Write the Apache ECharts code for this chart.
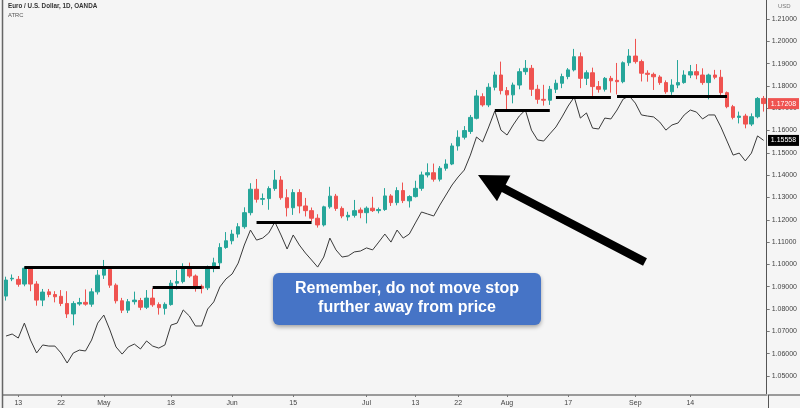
<!DOCTYPE html>
<html>
<head>
<meta charset="utf-8">
<script src="https://cdn.jsdelivr.net/npm/echarts@6/dist/echarts.min.js"></script>
<style>
  html, body { margin: 0; padding: 0; background: #f5f5f5; }
  #chart { width: 800px; height: 408px; }
</style>
</head>
<body>
<div id="chart"></div>
<script>
// weekday sessions, Apr 9 .. Sep 30 2020
const dates = []
for (let t = Date.UTC(2020, 3, 9); t <= Date.UTC(2020, 8, 30); t += 86400000) {
  const wd = new Date(t).getUTCDay()
  if (wd !== 0 && wd !== 6) dates.push(new Date(t).toISOString().slice(0, 10))
}

const open = [
  1.0858,1.0935,1.0933,1.0912,1.0982,1.0912,1.0840,1.0877,1.0865,1.0857,
  1.0825,1.0778,1.0823,1.0830,1.0822,1.0877,1.0952,1.0978,1.0907,1.0837,
  1.0795,1.0833,1.0838,1.0808,1.0849,1.0820,1.0803,1.0820,1.0916,1.0923,
  1.0983,1.0948,1.0902,1.0895,1.0982,1.1007,1.1076,1.1106,1.1136,1.1169,
  1.1232,1.1337,1.1292,1.1295,1.1340,1.1378,1.1299,1.1254,1.1322,1.1262,
  1.1241,1.1207,1.1177,1.1258,1.1306,1.1251,1.1213,1.1220,1.1244,1.1232,
  1.1252,1.1241,1.1246,1.1307,1.1277,1.1331,1.1285,1.1304,1.1341,1.1401,
  1.1411,1.1382,1.1431,1.1450,1.1531,1.1570,1.1596,1.1655,1.1752,1.1715,
  1.1794,1.1849,1.1779,1.1760,1.1804,1.1864,1.1879,1.1785,1.1740,1.1736,
  1.1785,1.1812,1.1842,1.1872,1.1931,1.1834,1.1859,1.1797,1.1785,1.1834,
  1.1825,1.1819,1.1904,1.1934,1.1909,1.1857,1.1852,1.1840,1.1815,1.1774,
  1.1804,1.1815,1.1849,1.1864,1.1849,1.1815,1.1849,1.1839,1.1770,1.1707,
  1.1659,1.1665,1.1629,1.1662,1.1744
]
const close = [
  1.0930,1.0938,1.0911,1.0983,1.0912,1.0840,1.0876,1.0865,1.0855,1.0825,
  1.0778,1.0825,1.0829,1.0822,1.0877,1.0952,1.0982,1.0907,1.0837,1.0795,
  1.0833,1.0840,1.0808,1.0849,1.0819,1.0806,1.0821,1.0916,1.0923,1.0983,
  1.0948,1.0900,1.0893,1.0982,1.1007,1.1076,1.1106,1.1136,1.1169,1.1232,
  1.1337,1.1292,1.1295,1.1340,1.1378,1.1299,1.1254,1.1322,1.1262,1.1241,
  1.1207,1.1177,1.1258,1.1306,1.1251,1.1217,1.1220,1.1241,1.1232,1.1252,
  1.1241,1.1246,1.1307,1.1277,1.1331,1.1286,1.1304,1.1341,1.1401,1.1411,
  1.1382,1.1431,1.1450,1.1531,1.1570,1.1600,1.1659,1.1755,1.1715,1.1794,
  1.1849,1.1779,1.1760,1.1804,1.1864,1.1879,1.1785,1.1740,1.1736,1.1785,
  1.1812,1.1842,1.1872,1.1931,1.1834,1.1859,1.1797,1.1785,1.1834,1.1823,
  1.1819,1.1904,1.1934,1.1909,1.1857,1.1852,1.1841,1.1815,1.1774,1.1804,
  1.1815,1.1849,1.1864,1.1849,1.1815,1.1849,1.1839,1.1770,1.1707,1.1659,
  1.1665,1.1629,1.1662,1.1744,1.1721
]
const high = [
  1.0945,1.0955,1.0948,1.0990,1.0990,1.0925,1.0890,1.0890,1.0880,1.0885,
  1.0880,1.0835,1.0850,1.0888,1.0893,1.0975,1.1020,1.0990,1.0915,1.0850,
  1.0845,1.0878,1.0850,1.0885,1.0893,1.0830,1.0830,1.0930,1.0975,1.1005,
  1.1008,1.0955,1.0910,1.0995,1.1030,1.1095,1.1145,1.1155,1.1185,1.1256,
  1.1364,1.1383,1.1318,1.1350,1.1423,1.1396,1.1337,1.1337,1.1337,1.1298,
  1.1255,1.1225,1.1263,1.1348,1.1316,1.1260,1.1236,1.1289,1.1255,1.1260,
  1.1303,1.1255,1.1342,1.1315,1.1346,1.1367,1.1310,1.1375,1.1416,1.1453,
  1.1452,1.1441,1.1471,1.1543,1.1601,1.1620,1.1670,1.1782,1.1767,1.1812,
  1.1864,1.1909,1.1795,1.1815,1.1879,1.1916,1.1894,1.1805,1.1805,1.1800,
  1.1828,1.1855,1.1880,1.1966,1.1950,1.1870,1.1882,1.1822,1.1840,1.1845,
  1.1903,1.1910,1.1965,1.2011,1.1918,1.1870,1.1860,1.1848,1.1825,1.1830,
  1.1916,1.1870,1.1894,1.1898,1.1879,1.1855,1.1872,1.1872,1.1775,1.1715,
  1.1685,1.1675,1.1677,1.1750,1.1755
]
const low = [
  1.0838,1.0925,1.0900,1.0902,1.0880,1.0815,1.0813,1.0853,1.0830,1.0813,
  1.0760,1.0727,1.0815,1.0815,1.0810,1.0865,1.0935,1.0895,1.0825,1.0782,
  1.0782,1.0820,1.0795,1.0800,1.0810,1.0775,1.0775,1.0815,1.0888,1.0915,
  1.0940,1.0878,1.0870,1.0885,1.0965,1.0990,1.1070,1.1090,1.1120,1.1160,
  1.1220,1.1277,1.1266,1.1245,1.1330,1.1290,1.1215,1.1222,1.1229,1.1215,
  1.1192,1.1165,1.1170,1.1250,1.1240,1.1207,1.1196,1.1210,1.1207,1.1184,
  1.1235,1.1229,1.1240,1.1262,1.1265,1.1275,1.1255,1.1300,1.1330,1.1390,
  1.1371,1.1372,1.1420,1.1445,1.1510,1.1560,1.1585,1.1650,1.1707,1.1705,
  1.1780,1.1762,1.1696,1.1722,1.1785,1.1850,1.1755,1.1720,1.1712,1.1715,
  1.1768,1.1790,1.1830,1.1865,1.1790,1.1804,1.1755,1.1770,1.1775,1.1770,
  1.1762,1.1812,1.1890,1.1900,1.1820,1.1819,1.1782,1.1805,1.1765,1.1760,
  1.1790,1.1810,1.1835,1.1830,1.1805,1.1740,1.1830,1.1760,1.1700,1.1650,
  1.1632,1.1610,1.1620,1.1655,1.1685
]
// ATR trailing line
const atrc = [
  1.0679,1.0688,1.0670,1.0737,1.0661,1.0603,1.0639,1.0634,1.0634,1.0603,
  1.0558,1.0603,1.0616,1.0612,1.0661,1.0737,1.0773,1.0706,1.0630,1.0598,
  1.0630,1.0643,1.0621,1.0657,1.0634,1.0625,1.0639,1.0728,1.0737,1.0796,
  1.0769,1.0724,1.0724,1.0800,1.0832,1.0899,1.0935,1.0957,1.1006,1.1087,
  1.1154,1.1109,1.1118,1.1141,1.1190,1.1132,1.1069,1.1132,1.1087,1.1051,
  1.1020,1.0988,1.1033,1.1118,1.1065,1.1033,1.1038,1.1056,1.1060,1.1074,
  1.1065,1.1100,1.1136,1.1100,1.1154,1.1118,1.1136,1.1186,1.1235,1.1226,
  1.1217,1.1266,1.1311,1.1356,1.1392,1.1423,1.1490,1.1571,1.1549,1.1616,
  1.1688,1.1602,1.1580,1.1625,1.1665,1.1692,1.1602,1.1558,1.1553,1.1585,
  1.1616,1.1661,1.1710,1.1750,1.1656,1.1679,1.1611,1.1607,1.1656,1.1652,
  1.1692,1.1741,1.1755,1.1723,1.1670,1.1665,1.1661,1.1638,1.1602,1.1625,
  1.1634,1.1670,1.1692,1.1683,1.1652,1.1670,1.1670,1.1616,1.1553,1.1490,
  1.1499,1.1464,1.1499,1.1576,1.1556
]

// horizontal stop levels drawn on the chart
const levelPrice = [1.0988, 1.0897, 1.1190, 1.1692, 1.1750, 1.1755]
const levelFrom  = ['2020-04-14', '2020-05-13', '2020-06-05', '2020-07-30', '2020-08-13', '2020-08-27']
const levelTo    = ['2020-05-28', '2020-05-25', '2020-06-18', '2020-08-12', '2020-08-26', '2020-09-22']

const tickDates  = ['2020-04-13','2020-04-22','2020-05-01','2020-05-18','2020-06-01','2020-06-15',
                    '2020-07-01','2020-07-13','2020-07-22','2020-08-03','2020-08-17','2020-09-01','2020-09-14']
const tickLabels = ['13','22','May','18','Jun','15','Jul','13','22','Aug','17','Sep','14']
const priceTicks = [1.05,1.06,1.07,1.08,1.09,1.10,1.11,1.12,1.13,1.14,1.15,1.16,1.17,1.18,1.19,1.20,1.21]

const lastPrice = 1.17208
const lastAtrc  = 1.15558

const UP = '#26a69a', DOWN = '#ef5350'
const FONT = 'Arial, "Liberation Sans", sans-serif'

const candles = open.map((o, i) => [o, close[i], low[i], high[i]])
const showTick = (idx, val) => tickDates.includes(val)

const chart = echarts.init(document.getElementById('chart'), null, { renderer: 'canvas' })

// arrow polygon from tip to tail
function arrowPoints(tip, tail, headLen, headHalf, shaftHalf) {
  const dx = tail[0] - tip[0], dy = tail[1] - tip[1]
  const len = Math.hypot(dx, dy)
  const ux = dx / len, uy = dy / len
  const nx = -uy, ny = ux
  const bx = tip[0] + ux * headLen, by = tip[1] + uy * headLen
  return [
    tip,
    [bx + nx * headHalf, by + ny * headHalf],
    [bx + nx * shaftHalf, by + ny * shaftHalf],
    [tail[0] + nx * shaftHalf, tail[1] + ny * shaftHalf],
    [tail[0] - nx * shaftHalf, tail[1] - ny * shaftHalf],
    [bx - nx * shaftHalf, by - ny * shaftHalf],
    [bx - nx * headHalf, by - ny * headHalf],
  ]
}

chart.setOption({
  backgroundColor: '#f5f5f5',
  animation: false,
  grid: { left: 3, right: 32, top: 0, bottom: 13 },
  xAxis: {
    type: 'category',
    data: dates,
    boundaryGap: true,
    axisLine: { lineStyle: { color: '#9a9a9a', width: 2 } },
    axisTick: { show: true, interval: showTick, alignWithLabel: true, length: 2, lineStyle: { color: '#777' } },
    axisLabel: {
      interval: showTick,
      formatter: v => tickLabels[tickDates.indexOf(v)],
      fontSize: 7, color: '#444', margin: 5, fontFamily: FONT,
    },
    splitLine: { show: false },
  },
  yAxis: {
    type: 'value',
    position: 'right',
    min: 1.04147,
    max: 1.21852,
    axisLine: { show: true, lineStyle: { color: '#555', width: 1 } },
    axisTick: { show: true, customValues: priceTicks, length: 3, lineStyle: { color: '#777' } },
    axisLabel: {
      customValues: priceTicks,
      formatter: v => v.toFixed(5),
      fontSize: 7, color: '#444', margin: 5, fontFamily: FONT,
    },
    splitLine: { show: false },
  },
  series: [
    {
      type: 'candlestick',
      data: candles,
      barWidth: 4,
      itemStyle: { color: UP, color0: DOWN, borderColor: UP, borderColor0: DOWN, borderWidth: 1 },
      markLine: {
        silent: true,
        symbol: 'none',
        label: { show: false },
        lineStyle: { color: '#000', width: 3, type: 'solid' },
        data: levelPrice.map((p, k) => [
          { coord: [levelFrom[k], p] },
          { coord: [levelTo[k], p] },
        ]),
      },
      z: 3,
    },
    {
      type: 'line',
      data: atrc,
      showSymbol: false,
      lineStyle: { color: '#3a3a3a', width: 1 },
      z: 2,
    },
  ],
})

const yLast = chart.convertToPixel({ yAxisIndex: 0 }, lastPrice)
const yAtr  = chart.convertToPixel({ yAxisIndex: 0 }, lastAtrc)

chart.setOption({
  graphic: [
    // frame lines
    { type: 'line', shape: { x1: 2.5, y1: 0, x2: 2.5, y2: 408 }, style: { stroke: '#666', lineWidth: 1.5 }, z: 10 },
    { type: 'line', shape: { x1: 768, y1: 395, x2: 800, y2: 395 }, style: { stroke: '#9a9a9a', lineWidth: 2 }, z: 10 },
    { type: 'line', shape: { x1: 768.5, y1: 395, x2: 768.5, y2: 408 }, style: { stroke: '#555', lineWidth: 1 }, z: 10 },
    // header text
    { type: 'text', left: 8, top: 3, style: { text: 'Euro / U.S. Dollar, 1D, OANDA', font: 'bold 6.3px ' + FONT, fill: '#333' }, z: 10 },
    { type: 'text', left: 8, top: 12, style: { text: 'ATRC', font: '5.8px ' + FONT, fill: '#555' }, z: 10 },
    { type: 'text', left: 778, top: 3, style: { text: 'USD', font: '6px ' + FONT, fill: '#777' }, z: 10 },
    // last price / ATRC value tags
    { type: 'rect', shape: { x: 768, y: yLast - 5.5, width: 31, height: 11 }, style: { fill: DOWN }, z: 20 },
    { type: 'text', x: 783.5, y: yLast, style: { text: lastPrice.toFixed(5), font: '7px ' + FONT, fill: '#fff', align: 'center', verticalAlign: 'middle' }, z: 21 },
    { type: 'rect', shape: { x: 768, y: yAtr - 5.5, width: 31, height: 11 }, style: { fill: '#000' }, z: 20 },
    { type: 'text', x: 783.5, y: yAtr, style: { text: lastAtrc.toFixed(5), font: '7px ' + FONT, fill: '#fff', align: 'center', verticalAlign: 'middle' }, z: 21 },
    // arrow
    { type: 'polygon', shape: { points: arrowPoints([478, 175], [645, 262], 29, 14.5, 4.2) }, style: { fill: '#000' }, z: 15 },
    // callout box
    {
      type: 'rect',
      shape: { x: 273, y: 273, width: 268, height: 52, r: 6 },
      style: { fill: '#4674c6', shadowBlur: 4, shadowOffsetY: 2, shadowColor: 'rgba(0,0,0,0.35)' },
      z: 15,
    },
    { type: 'text', x: 407, y: 289, style: { text: 'Remember, do not move stop', font: 'bold 16px ' + FONT, fill: '#fff', align: 'center', verticalAlign: 'middle' }, z: 16 },
    { type: 'text', x: 407, y: 308, style: { text: 'further away from price', font: 'bold 16px ' + FONT, fill: '#fff', align: 'center', verticalAlign: 'middle' }, z: 16 },
  ],
})
</script>
</body>
</html>
